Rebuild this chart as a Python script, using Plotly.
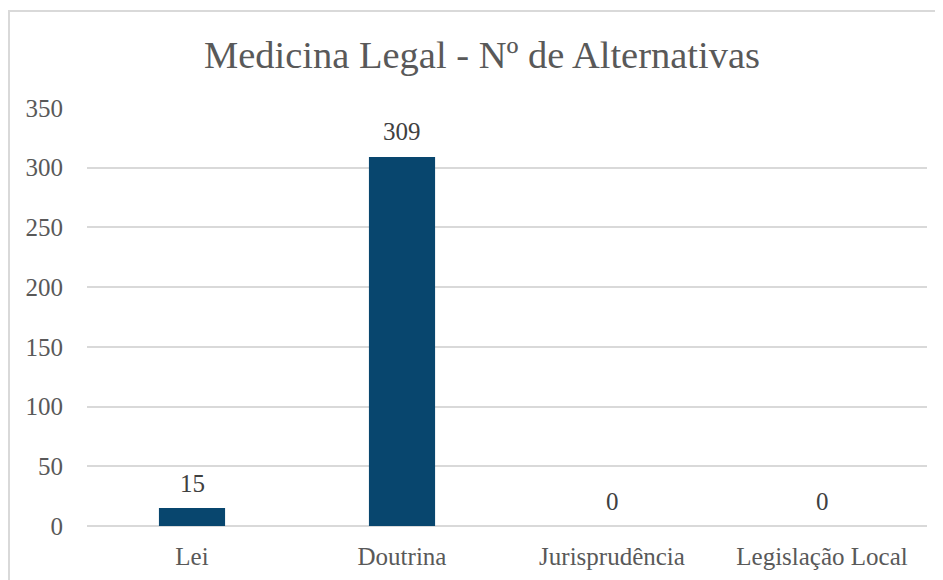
import plotly.graph_objects as go

categories = ["Lei", "Doutrina", "Jurisprudência", "Legislação Local"]
values = [15, 309, 0, 0]
y_ticks = [0, 50, 100, 150, 200, 250, 300, 350]

W, H = 943, 580
OFF = 8  # page body margin
L, T = 87 - OFF, 108 - OFF
R, B = W - (927 - OFF), H - (526 - OFF)
pw, ph = W - L - R, H - T - B

font_family = "Liberation Serif, DejaVu Serif, serif"
txt_color = "#595959"

fig = go.Figure(go.Bar(
    x=categories, y=values,
    marker=dict(color="#08466E", line=dict(width=0)),
    width=0.315,
    cliponaxis=False,
))

annotations = [dict(x=c, y=v, xref="x", yref="y", text=str(v), showarrow=False,
                    yanchor="middle", yshift=25,
                    font=dict(family=font_family, size=25, color="#404040"))
               for c, v in zip(categories, values)]

fig.update_layout(
    width=W, height=H,
    margin=dict(l=L, r=R, t=T, b=B),
    paper_bgcolor="white", plot_bgcolor="white",
    showlegend=False,
    title=dict(text="Medicina Legal - Nº de Alternativas", x=(482 - OFF) / W, xanchor="center",
               y=1 - (55 - OFF) / H, yanchor="middle",
               font=dict(family=font_family, size=38.5, color=txt_color)),
    xaxis=dict(showgrid=False, showline=False, ticks="outside", ticklen=8,
               tickcolor="rgba(0,0,0,0)", automargin=False,
               tickfont=dict(family=font_family, size=25, color=txt_color)),
    yaxis=dict(range=[0, 350], tickvals=y_ticks, showgrid=True, gridcolor="#D9D9D9",
               gridwidth=1.5, zeroline=True, zerolinecolor="#D9D9D9", zerolinewidth=1.5,
               ticks="outside", ticklen=18, tickcolor="rgba(0,0,0,0)", automargin=False,
               tickfont=dict(family=font_family, size=25, color=txt_color)),
    annotations=annotations,
    shapes=[dict(type="rect", xref="paper", yref="paper",
                 x0=(1 - L) / pw, x1=(960 - OFF - L) / pw,
                 y0=-(600 - (T + ph)) / ph, y1=1 + (T - (11 - OFF)) / ph,
                 line=dict(color="#D9D9D9", width=2), fillcolor="rgba(0,0,0,0)")],
)

fig.write_html("out.html")
